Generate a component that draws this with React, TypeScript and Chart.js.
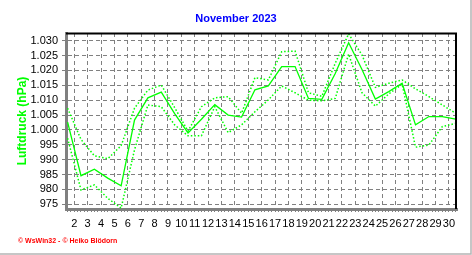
import { useEffect, useRef } from 'react';
import { Chart, registerables } from 'chart.js';

Chart.register(...registerables);

// Day of month (each value plotted at noon of its day)
const days = [1, 2, 3, 4, 5, 6, 7, 8, 9, 10, 11, 12, 13, 14, 15, 16, 17, 18, 19, 20, 21, 22, 23, 24, 25, 26, 27, 28, 29, 30];

// Daily mean pressure (hPa)
const meanPressure = [1002.6, 984.6, 986.8, 983.8, 981.2, 1003.3, 1010.8, 1012.7, 1005.5, 999.0, 1003.6, 1008.5, 1005.0, 1004.3, 1013.5, 1014.8, 1021.3, 1021.3, 1010.6, 1010.3, 1019.0, 1029.3, 1020.3, 1010.4, 1012.9, 1015.7, 1001.7, 1004.5, 1004.5, 1003.6];
// Daily maximum pressure (hPa)
const maxPressure = [1007.3, 996.8, 991.3, 990.3, 994.7, 1007.3, 1013.4, 1015.1, 1007.5, 999.6, 1007.8, 1010.8, 1011.2, 1005.6, 1017.6, 1016.8, 1026.3, 1026.5, 1012.5, 1011.3, 1022.4, 1032.3, 1025.2, 1014.3, 1015.7, 1016.8, 1013.8, 1011.2, 1008.4, 1005.6];
// Daily minimum pressure (hPa)
const minPressure = [997.2, 979.8, 981.5, 977.0, 973.7, 993.3, 1008.4, 1007.8, 1001.7, 998.0, 998.0, 1007.8, 999.1, 1001.7, 1006.1, 1010.1, 1014.8, 1012.5, 1010.0, 1009.8, 1010.6, 1025.5, 1012.5, 1008.0, 1012.1, 1015.4, 994.2, 994.9, 1001.1, 1002.2];

// Axis ticks
const yTickValues = [975, 980, 985, 990, 995, 1000, 1005, 1010, 1015, 1020, 1025, 1030];
const xTickLabels = ['2', '3', '4', '5', '6', '7', '8', '9', '10', '11', '12', '13', '14', '15', '16', '17', '18', '19', '20', '21', '22', '23', '24', '25', '26', '27', '28', '29', '30'];

const chartTitle = 'November 2023';
const yAxisTitle = 'Luftdruck (hPa)';
const footerText = '\u00A9 WsWin32 - \u00A9 Heiko Bl\u00F6dorn';

const GREEN = '#00ff00';
const GRID = '#808080';
const FONT = '"Liberation Sans", Arial, sans-serif';

// day boundaries (midnight) where labels sit, in days since Nov 1 00:00
const majorX = xTickLabels.map((l) => Number(l) - 1);
const minorX: number[] = [];
for (let q = 2; q <= 118; q++) minorX.push(q / 4);

const isWhole = (v: number) => Math.abs(v - Math.round(v)) < 1e-6;
const fmtHpa = (v: number) => (v >= 1000 ? `${Math.floor(v / 1000)}.${String(v % 1000).padStart(3, '0')}` : String(v));

const toPoints = (vals: number[]) => vals.map((v, i) => ({ x: days[i] - 0.5, y: v }));

const framePlugin = {
  id: 'frame',
  afterDatasetsDraw(chart: any) {
    const { ctx, chartArea } = chart;
    const { left, right, top, bottom } = chartArea;
    ctx.save();
    ctx.setLineDash([]);
    ctx.strokeStyle = '#000';
    ctx.lineWidth = 2;
    ctx.beginPath();
    ctx.moveTo(left, top + 0.5);
    ctx.lineTo(right - 1, top + 0.5);
    ctx.lineTo(right - 1, bottom);
    ctx.stroke();
    ctx.restore();
  },
  afterDraw(chart: any) {
    const { ctx, width, height } = chart;
    ctx.save();
    ctx.setLineDash([]);
    ctx.strokeStyle = '#b4b4b4';
    ctx.lineWidth = 1.5;
    ctx.beginPath();
    ctx.moveTo(width - 1, 0);
    ctx.lineTo(width - 1, height - 1);
    ctx.lineTo(0, height - 1);
    ctx.stroke();
    ctx.fillStyle = '#ff0000';
    ctx.font = `bold 7px ${FONT}`;
    ctx.textBaseline = 'alphabetic';
    ctx.textAlign = 'left';
    ctx.fillText(footerText, 18, 243);
    ctx.restore();
  },
};

export default function App() {
  const ref = useRef<HTMLCanvasElement | null>(null);

  useEffect(() => {
    document.body.style.margin = '0';
    const canvas = ref.current;
    if (!canvas) return;
    const chart = new Chart(canvas, {
      type: 'line',
      data: {
        datasets: [
          {
            label: 'Maximum',
            data: toPoints(maxPressure),
            borderColor: GREEN,
            borderWidth: 1.5,
            borderDash: [1.5, 2],
            pointRadius: 0,
            fill: false,
            tension: 0,
          },
          {
            label: 'Minimum',
            data: toPoints(minPressure),
            borderColor: GREEN,
            borderWidth: 1.5,
            borderDash: [1.5, 2],
            pointRadius: 0,
            fill: false,
            tension: 0,
          },
          {
            label: 'Mittel',
            data: toPoints(meanPressure),
            borderColor: GREEN,
            borderWidth: 1.3,
            pointRadius: 0,
            fill: false,
            tension: 0,
          },
        ],
      },
      options: {
        animation: false,
        responsive: false,
        maintainAspectRatio: false,
        layout: { padding: 0 },
        plugins: {
          legend: { display: false },
          tooltip: { enabled: false },
          title: {
            display: true,
            text: chartTitle,
            color: '#0000ff',
            font: { size: 11, weight: 'bold', family: FONT, lineHeight: 1.2 },
            padding: { top: 12.8, bottom: 7 },
          },
        },
        scales: {
          x: {
            type: 'linear',
            min: 0.38,
            max: 29.6,
            afterBuildTicks: (s: any) => {
              s.ticks = minorX.map((v) => ({ value: v }));
            },
            afterFit: (s: any) => {
              s.height = 46;
            },
            grid: {
              color: (c: any) => (c.tick && isWhole(c.tick.value) && majorX.includes(Math.round(c.tick.value)) ? GRID : 'rgba(0,0,0,0)'),
              lineWidth: 1,
              tickLength: 3,
              tickColor: GRID,
              tickWidth: 1,
              tickBorderDash: [],
            },
            border: { display: true, color: GRID, width: 3, dash: [4, 3] },
            ticks: {
              autoSkip: false,
              maxRotation: 0,
              minRotation: 0,
              padding: 5,
              color: '#000',
              font: { size: 11, family: FONT },
              callback: (v: any) => {
                const n = Number(v);
                if (!isWhole(n)) return '';
                const idx = majorX.indexOf(Math.round(n));
                return idx >= 0 ? xTickLabels[idx] : '';
              },
            },
          },
          y: {
            type: 'linear',
            position: 'left',
            min: 973.4,
            max: 1032.6,
            afterBuildTicks: (s: any) => {
              s.ticks = yTickValues.map((v) => ({ value: v }));
            },
            afterFit: (s: any) => {
              s.width = 66;
            },
            grid: {
              color: GRID,
              lineWidth: 1,
              tickLength: 4,
              tickColor: GRID,
              tickWidth: 1,
              tickBorderDash: [],
            },
            border: { display: true, color: GRID, width: 3, dash: [4, 3] },
            ticks: {
              autoSkip: false,
              padding: 4,
              color: '#000',
              font: { size: 11, family: FONT },
              callback: (v: any) => fmtHpa(Number(v)),
            },
            title: {
              display: true,
              text: yAxisTitle,
              color: GREEN,
              font: { size: 12, weight: 'bold', family: FONT, lineHeight: 1.2 },
              padding: { top: 15, bottom: 0 },
            },
          },
          yRight: {
            type: 'linear',
            position: 'right',
            display: true,
            grid: { display: false },
            border: { display: false },
            ticks: { display: false },
            afterFit: (s: any) => {
              s.width = 15;
            },
          },
        },
      },
      plugins: [framePlugin],
    } as any);
    return () => chart.destroy();
  }, []);

  return <canvas ref={ref} width={472} height={255} style={{ display: 'block', width: 472, height: 255 }} />;
}
